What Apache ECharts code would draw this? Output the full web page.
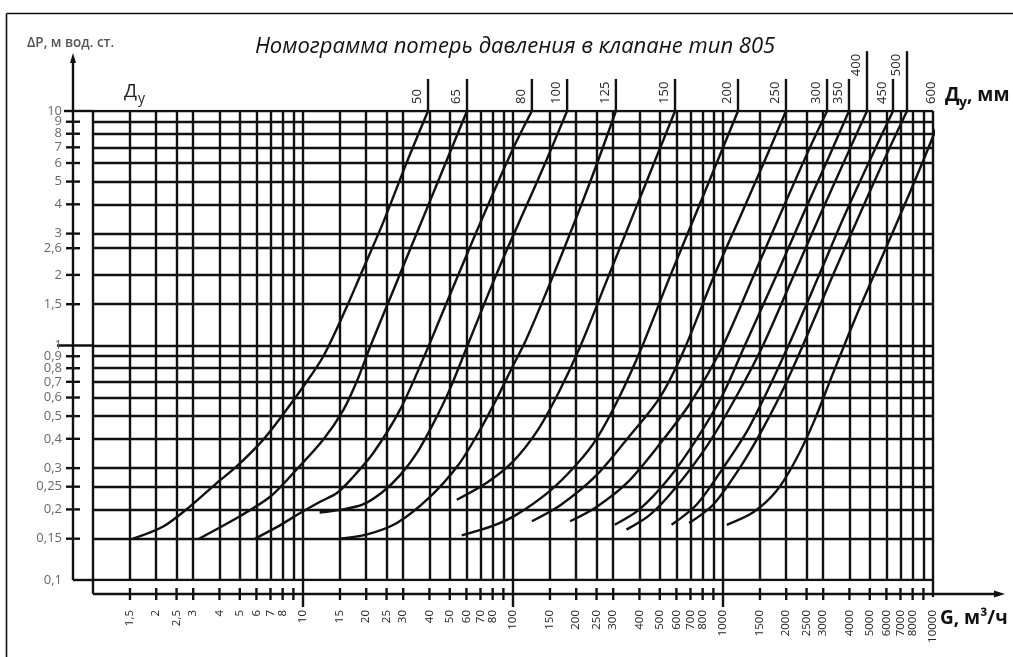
<!DOCTYPE html>
<html>
<head>
<meta charset="utf-8">
<script src="https://cdn.jsdelivr.net/npm/echarts@6/dist/echarts.min.js"></script>
<style>
  html, body { margin: 0; padding: 0; background: #fff; }
  #chart { width: 1013px; height: 657px; }
</style>
</head>
<body>
<div id="chart"></div>
<script>
// Flow-rate grid, m3/h (log scale)
const flowGrid = [1, 1.5, 2, 2.5, 3, 4, 5, 6, 7, 8, 9, 10, 15, 20, 25, 30, 40, 50, 60, 70, 80, 90,
  100, 150, 200, 250, 300, 400, 500, 600, 700, 800, 900, 1000, 1500, 2000, 2500, 3000, 4000, 5000,
  6000, 7000, 8000, 9000, 10000];
const flowLabels = [1.5, 2, 2.5, 3, 4, 5, 6, 7, 8, 10, 15, 20, 25, 30, 40, 50, 60, 70, 80, 100, 150,
  200, 250, 300, 400, 500, 600, 700, 800, 1000, 1500, 2000, 2500, 3000, 4000, 5000, 6000, 7000, 8000, 10000];
const flowDecades = [10, 100, 1000];

// Pressure-loss grid, m of water column (log scale)
const dpGrid = [0.1, 0.15, 0.2, 0.25, 0.3, 0.4, 0.5, 0.6, 0.7, 0.8, 0.9, 1, 1.5, 2, 2.6, 3, 4, 5, 6, 7, 8, 9, 10];
const dpLabels = dpGrid;

// Valve curves: [G, dP] for each nominal bore DN
const dn50  = [[1.55, 0.15], [2.16, 0.169], [2.9, 0.206], [3.88, 0.259], [4.83, 0.305], [6.47, 0.397], [8.36, 0.533], [10.05, 0.67], [12.5, 0.9], [16.2, 1.47], [18.7, 1.98], [24.1, 3.35], [31.2, 6.04], [39.4, 10]];
const dn65  = [[3.2, 0.15], [5, 0.187], [7, 0.227], [9, 0.286], [12.5, 0.397], [15.6, 0.533], [18, 0.7], [21, 1], [27, 1.73], [35, 3.05], [45, 5.27], [60.4, 10]];
const dn80  = [[5.9, 0.15], [7.5, 0.168], [9.7, 0.193], [12, 0.215], [14.5, 0.235], [17, 0.27], [21.6, 0.348], [29, 0.533], [37.4, 0.88], [44.9, 1.3], [64.7, 2.84], [100, 6.9], [123, 10]];
const dn100 = [[12, 0.194], [15, 0.199], [19.3, 0.21], [24, 0.238], [29, 0.28], [35, 0.35], [42, 0.47], [50, 0.65], [60.2, 0.98], [75, 1.6], [93.3, 2.55], [116, 3.95], [144.6, 6.2], [181, 10]];
const dn125 = [[15, 0.15], [20, 0.156], [28, 0.175], [40, 0.225], [55, 0.31], [70, 0.44], [85, 0.61], [100, 0.82], [115, 1.05], [150, 1.84], [200, 3.5], [250, 5.9], [309, 10]];
const dn150 = [[54, 0.22], [75, 0.26], [100, 0.32], [130, 0.43], [165, 0.63], [210, 1], [280, 1.9], [380, 3.75], [480, 6.3], [591, 10]];
const dn200 = [[57, 0.155], [80, 0.17], [104, 0.19], [150, 0.24], [200, 0.31], [250, 0.4], [320, 0.6], [410, 0.98], [550, 1.9], [750, 3.73], [950, 6.24], [1179, 10]];
const dn250 = [[123, 0.178], [170, 0.21], [250, 0.28], [350, 0.4], [500, 0.6], [650, 0.95], [900, 1.95], [1200, 3.5], [1600, 6.3], [1995, 10]];
const dn300 = [[187, 0.178], [250, 0.205], [350, 0.26], [500, 0.38], [700, 0.57], [1000, 1], [1400, 1.99], [1900, 3.73], [2500, 6.5], [3130, 10]];
const dn350 = [[305, 0.172], [400, 0.2], [550, 0.27], [750, 0.4], [1000, 0.62], [1270, 1], [1800, 2], [2400, 3.6], [3200, 6.4], [3980, 10]];
const dn400 = [[347, 0.164], [450, 0.19], [600, 0.25], [850, 0.38], [1150, 0.6], [1550, 1], [2150, 1.95], [2900, 3.6], [3900, 6.5], [4850, 10]];
const dn450 = [[569, 0.172], [750, 0.21], [1000, 0.3], [1300, 0.43], [1600, 0.62], [2050, 1], [2800, 1.9], [3800, 3.6], [5100, 6.4], [6450, 10]];
const dn500 = [[690, 0.175], [900, 0.21], [1200, 0.3], [1500, 0.42], [1900, 0.63], [2400, 1], [3300, 1.95], [4400, 3.5], [6000, 6.5], [7520, 10]];
const dn600 = [[1042, 0.172], [1400, 0.195], [1800, 0.24], [2200, 0.32], [2700, 0.47], [3300, 0.74], [4330, 1.35], [5790, 2.45], [7770, 4.5], [10230, 8.2], [11040, 10]];

const dnNames = ['50', '65', '80', '100', '125', '150', '200', '250', '300', '350', '400', '450', '500', '600'];
const dnCurves = [dn50, dn65, dn80, dn100, dn125, dn150, dn200, dn250, dn300, dn350, dn400, dn450, dn500, dn600];

// ---- drawing ----
const INK = '#111';
const FONT = '"Open Sans", "Noto Sans", sans-serif';
const LINE_W = 2.4;
const STUB_SHORT = 13.7;   // top of a DN leader line, dP units above the frame
const STUB_TALL = 18;
const tallStubs = ['400', '500'];

const chart = echarts.init(document.getElementById('chart'), null, { renderer: 'canvas' });
const fmt = v => String(v).replace('.', ',');
const G_MIN = flowGrid[0], G_MAX = flowGrid[flowGrid.length - 1];
const P_MIN = dpGrid[0], P_MAX = dpGrid[dpGrid.length - 1];

const series = [];
series.push({
  type: 'lines', coordinateSystem: 'cartesian2d', silent: true, z: 1, animation: false,
  lineStyle: { color: INK, width: LINE_W, opacity: 1, curveness: 0 },
  data: flowGrid.map(g => ({ coords: [[g, P_MIN], [g, P_MAX]] }))
    .concat(dpGrid.map(p => ({ coords: [[G_MIN, p], [G_MAX, p]] })))
});
dnCurves.forEach((pts, i) => {
  series.push({
    type: 'line', name: 'DN ' + dnNames[i], data: pts, smooth: 0.3, symbol: 'none',
    clip: false, silent: true, animation: false, z: 3,
    lineStyle: { color: INK, width: 2.4 }
  });
  const top = pts[pts.length - 1];
  const h = tallStubs.includes(dnNames[i]) ? STUB_TALL : STUB_SHORT;
  series.push({
    type: 'line', data: [[top[0], top[1]], [top[0], h]], symbol: 'none',
    clip: false, silent: true, animation: false, z: 3,
    lineStyle: { color: INK, width: 2.4 }
  });
});

chart.setOption({
  animation: false,
  backgroundColor: '#fff',
  grid: { left: 93, top: 111, width: 840, height: 469, show: false },
  xAxis: { type: 'log', logBase: 10, min: G_MIN, max: G_MAX, show: false },
  yAxis: { type: 'log', logBase: 10, min: P_MIN, max: P_MAX, show: false },
  series
});

// frame, axes, ticks and texts placed from the axis scales
const px = (g, p) => chart.convertToPixel({ gridIndex: 0 }, [g, p]);
const [x0, yTop] = px(G_MIN, P_MAX);
const [x1, yBot] = px(G_MAX, P_MIN);
const yAx = x0 - 20;
const xAxY = yBot + 14;
const els = [];
const seg = (ax, ay, bx, by, w) => els.push({
  type: 'line', silent: true, z: 5,
  shape: { x1: ax, y1: ay, x2: bx, y2: by },
  style: { stroke: INK, lineWidth: w || LINE_W }
});
const txt = (o) => els.push(Object.assign({ type: 'text', silent: true, z: 6 }, o));
const ts = (text, font, fill, align, valign) => ({
  text, font, fill, align, verticalAlign: valign, textAlign: align, textVerticalAlign: valign
});

// outer frame
seg(6.5, 13.5, 1013, 13.5, 1.6);
seg(6.5, 13.5, 6.5, 657, 1.6);

// vertical axis with arrow
seg(yAx, yBot, yAx, 58);
els.push({ type: 'polygon', silent: true, z: 5, shape: { points: [[yAx - 3, 63], [yAx, 53], [yAx + 3, 63]] }, style: { fill: INK } });
seg(yAx, yBot, x0, yBot);
seg(yAx - 9, yTop, x0, yTop);
seg(yAx - 16, px(G_MIN, 1)[1], x0, px(G_MIN, 1)[1]);
dpGrid.forEach(p => {
  const y = px(G_MIN, p)[1];
  if (p !== P_MIN && p !== 1 && p !== P_MAX) seg(yAx - 7, y, yAx + 7, y);
});
dpLabels.forEach(p => {
  const y = px(G_MIN, p)[1];
  txt({ x: yAx - 11, y, style: ts(fmt(p), '13px ' + FONT, '#686868', 'right', 'middle') });
});

// horizontal axis with arrow
seg(x0, yBot, x0, xAxY);
seg(x1, yBot, x1, xAxY + 3);
seg(x0, xAxY, 1000, xAxY);
els.push({ type: 'polygon', silent: true, z: 5, shape: { points: [[994, xAxY - 3.5], [1005, xAxY], [994, xAxY + 3.5]] }, style: { fill: INK } });
flowGrid.forEach(g => {
  const x = px(g, P_MIN)[0];
  if (g === G_MIN || g === G_MAX) return;
  if (flowDecades.includes(g)) seg(x, yBot, x, xAxY + 13);
  else seg(x, xAxY - 6, x, xAxY + 6);
});
flowLabels.forEach(g => {
  const x = px(g, P_MIN)[0];
  txt({ x, y: xAxY + 16, rotation: Math.PI / 2, style: ts(fmt(g), '11.5px ' + FONT, '#222', 'right', 'middle') });
});

// DN labels beside the leader lines
dnCurves.forEach((pts, i) => {
  const top = pts[pts.length - 1];
  const tall = tallStubs.includes(dnNames[i]);
  const [sx, sy] = px(top[0], tall ? STUB_TALL : STUB_SHORT);
  txt({ x: sx - 4, y: sy + 25, rotation: Math.PI / 2, style: ts(dnNames[i], '13px ' + FONT, '#222', 'left', 'bottom') });
});

// titles
txt({ x: 515, y: 47, style: ts('Номограмма потерь давления в клапане тип 805', 'italic 22px ' + FONT, '#111', 'center', 'middle') });
txt({ x: 27, y: 43, style: ts('ΔP, м вод. ст.', '600 13.5px ' + FONT, '#555', 'left', 'middle') });
txt({ x: 124, y: 92, style: ts('Д', '19px ' + FONT, '#222', 'left', 'middle') });
txt({ x: 138, y: 99, style: ts('у', '14px ' + FONT, '#222', 'left', 'middle') });
txt({ x: 945, y: 96, style: ts('Д', 'bold 19px ' + FONT, '#111', 'left', 'middle') });
txt({ x: 959, y: 103, style: ts('у', 'bold 14px ' + FONT, '#111', 'left', 'middle') });
txt({ x: 967, y: 96, style: ts(', мм', 'bold 19px ' + FONT, '#111', 'left', 'middle') });
txt({ x: 940, y: 619, style: ts('G, м³/ч', 'bold 19px ' + FONT, '#111', 'left', 'middle') });

chart.setOption({ graphic: { elements: els } });
</script>
</body>
</html>
